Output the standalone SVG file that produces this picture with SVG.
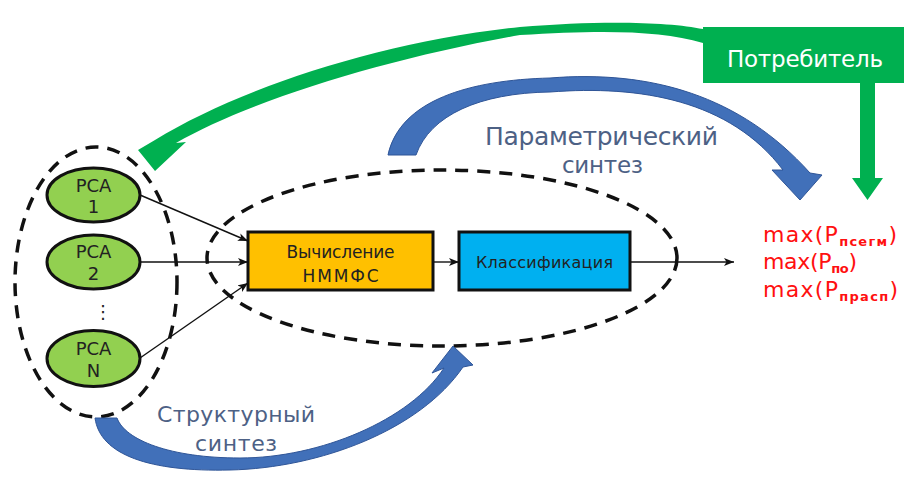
<svg xmlns="http://www.w3.org/2000/svg" width="918" height="483" viewBox="0 0 918 483">
<defs>
<marker id="ah" viewBox="0 0 10 8" refX="10" refY="4" markerWidth="10" markerHeight="8" markerUnits="userSpaceOnUse" orient="auto">
<path d="M0,0 L10,4 L0,8 L2.5,4 Z" fill="#111"/>
</marker>
<style>
.dash{fill:none;stroke:#111;stroke-width:3.5;stroke-dasharray:13 9}
.pca{fill:#92D050;stroke:#111;stroke-width:3}
.pt{font-family:"DejaVu Sans","Liberation Sans",sans-serif;font-size:18px;fill:#222;text-anchor:middle}
.bx{stroke:#111;stroke-width:3}
.bt{font-family:"DejaVu Sans","Liberation Sans",sans-serif;fill:#222;text-anchor:middle}
.lbl{font-family:"DejaVu Sans","Liberation Sans",sans-serif;fill:#4d6185}
.red{font-family:"DejaVu Sans","Liberation Sans",sans-serif;font-size:22px;fill:#ff1010}
.sub{font-size:13px;font-weight:bold}
.ln{fill:none;stroke:#111;stroke-width:1.4;marker-end:url(#ah)}
.blue{fill:#4170b9;stroke:#2f5597;stroke-width:1}
.green{fill:#00B050}
</style>
</defs>
<rect width="918" height="483" fill="#fff"/>

<g id="group-left">
<ellipse class="dash" cx="96" cy="282" rx="81" ry="135"/>
</g>
<g id="group-middle">
<ellipse class="dash" cx="442" cy="258" rx="235" ry="88"/>
</g>

<g id="connectors">
<line class="ln" x1="140" y1="195" x2="248" y2="241"/>
<line class="ln" x1="140" y1="262" x2="248" y2="262"/>
<line class="ln" x1="140" y1="358" x2="248" y2="283"/>
<line class="ln" x1="433" y1="262" x2="459" y2="262"/>
<line class="ln" x1="630" y1="262" x2="734" y2="262"/>
<path id="arrow-consumer-feedback" class="green" d="M703,29 C670,22 600,20 520,27 C380,42 240,88 155,140 L138,150 L155,171 L186,142 L176,143 C250,100 390,58 520,35 C600,30 660,30 703,43 Z"/>
<path id="arrow-consumer-down" class="green" d="M860,82 L875,82 L875,178 L883,178 L867.5,200 L852,178 L860,178 Z"/>
<path id="arrow-param" class="blue" d="M388,155 C400,100 470,80 550,78 C650,70 740,95 810,173 L822,175 L800,200 L772,170 L783,170 C730,100 640,85 550,92 C480,93 430,115 416,155 Z"/>
<path id="arrow-struct" class="blue" d="M95,418 C100,455 150,472 230,470 C320,468 420,430 463,367 L473,365 L453,346 L432,373 L444,368 C410,420 320,458 240,458 C170,458 125,440 117,418 Z"/>
</g>

<g id="pca1">
<ellipse class="pca" cx="93.5" cy="195" rx="46.5" ry="27"/>
<text class="pt" x="93.5" y="192">PCA</text>
<text class="pt" x="93.5" y="213">1</text>
</g>
<g id="pca2">
<ellipse class="pca" cx="93.5" cy="262" rx="46.5" ry="27"/>
<text class="pt" x="93.5" y="258">PCA</text>
<text class="pt" x="93.5" y="280">2</text>
</g>
<g id="dots">
<text class="pt" x="103" y="318" font-size="20">⋮</text>
</g>
<g id="pcaN">
<ellipse class="pca" cx="93.5" cy="358.5" rx="46.5" ry="28"/>
<text class="pt" x="93.5" y="355">PCA</text>
<text class="pt" x="93.5" y="377">N</text>
</g>

<g id="calc">
<rect class="bx" x="248" y="232" width="185" height="58" fill="#FFC000"/>
<text class="bt" x="340.5" y="258" font-size="17" textLength="108">Вычисление</text>
<text class="bt" x="340.5" y="282" font-size="17" textLength="76">НММФС</text>
</g>
<g id="classify">
<rect class="bx" x="459" y="232" width="171" height="58" fill="#00B0F0"/>
<text class="bt" x="544.5" y="268" font-size="16" textLength="137">Классификация</text>
</g>

<g id="consumer">
<rect x="703" y="27" width="201" height="56" fill="#00B050"/>
<text x="805" y="67" font-family="DejaVu Sans, Liberation Sans, sans-serif" font-size="23" fill="#fff" text-anchor="middle" textLength="156">Потребитель</text>
</g>

<g id="label-param">
<text class="lbl" x="485" y="145" font-size="25" textLength="233">Параметрический</text>
<text class="lbl" x="562" y="173" font-size="23" textLength="81">синтез</text>
</g>
<g id="label-struct">
<text class="lbl" x="157" y="422" font-size="22" textLength="158">Структурный</text>
<text class="lbl" x="195" y="451" font-size="22" textLength="82">синтез</text>
</g>

<g id="criteria">
<text class="red" x="763" y="242" textLength="134">max(P<tspan class="sub" dy="4">псегм</tspan><tspan dy="-4">)</tspan></text>
<text class="red" x="763" y="269" textLength="94">max(P<tspan class="sub" dy="4">по</tspan><tspan dy="-4">)</tspan></text>
<text class="red" x="763" y="297" textLength="135">max(P<tspan class="sub" dy="4">прасп</tspan><tspan dy="-4">)</tspan></text>
</g>
</svg>
